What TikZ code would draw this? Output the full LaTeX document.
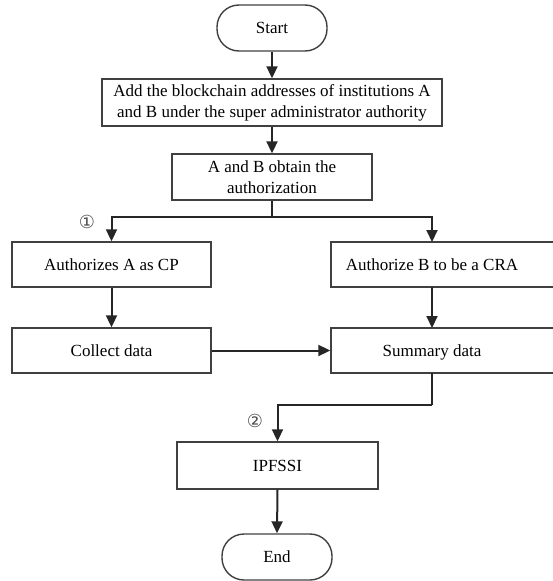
\documentclass[tikz,border=0pt]{standalone}
\usepackage{fontspec}
\setmainfont{Liberation Serif}
\newfontfamily\symfont{DejaVu Sans}
\usetikzlibrary{arrows.meta,calc}
\begin{document}
\begin{tikzpicture}[x=1pt,y=-1pt,
  box/.style={draw=black!75,line width=1.4pt,rectangle,inner sep=0pt,font=\fontsize{17}{21}\selectfont,align=center},
  oneline/.style={text height=13pt,text depth=2pt},
  term/.style={box,oneline,rounded corners=22pt},
  conn/.style={draw=black!85,line width=2pt,-{Triangle[length=12pt,width=11pt]}},
  seg/.style={draw=black!85,line width=2pt},
  stepmark/.style={text=black!70,font=\symfont\fontsize{18}{18}\selectfont,inner sep=0pt}]
\useasboundingbox (0,0) rectangle (552,581);
\node[term,minimum width=110pt,minimum height=46pt] (start) at (272,28) {Start};
\node[box,minimum width=340pt,minimum height=47pt] (add) at (272,102.5) {Add the blockchain addresses of institutions A\\and B under the super administrator authority};
\node[box,minimum width=200pt,minimum height=46pt] (ab) at (272,177) {A and B obtain the\\authorization};
\node[box,oneline,minimum width=199pt,minimum height=45pt] (authA) at (111.5,264.5) {Authorizes A as CP};
\node[box,oneline,minimum width=229pt,minimum height=45pt] (authB) at (445.5,264.5) {\makebox[202pt]{Authorize B to be a CRA}\hspace*{27pt}};
\node[box,oneline,minimum width=199pt,minimum height=45pt] (collect) at (111.5,350.5) {Collect data};
\node[box,oneline,minimum width=229pt,minimum height=45pt] (summary) at (445.5,350.5) {\makebox[202pt]{Summary data}\hspace*{27pt}};
\node[box,oneline,minimum width=201pt,minimum height=47pt] (ipfs) at (277.5,465.5) {IPFSSI};
\node[term,minimum width=110pt,minimum height=46pt] (end) at (277,557) {End};
\node[stepmark] (m1) at (87,222) {①};
\node[stepmark] (m2) at (255,421) {②};
\coordinate (split) at (272,217);
\coordinate (bTop) at (432,242);
\coordinate (bBot) at (432,287);
\coordinate (sTop) at (432,328);
\coordinate (sBot) at (432,373);
\coordinate (join) at (432,405);
\draw[conn] (start.south) -- (add.north);
\draw[conn] (add.south) -- (ab.north);
\draw[seg] (ab.south) -- (split);
\draw[conn] (split) -| (authA.north);
\draw[conn] (split) -| (bTop);
\draw[conn] (authA.south) -- (collect.north);
\draw[conn] (bBot) -- (sTop);
\draw[conn] (collect.east) -- (summary.west);
\draw[seg] (sBot) -- (join);
\draw[conn] (join) -| (ipfs.north);
\draw[conn] (ipfs.south) -- (end.north);
\end{tikzpicture}
\end{document}
